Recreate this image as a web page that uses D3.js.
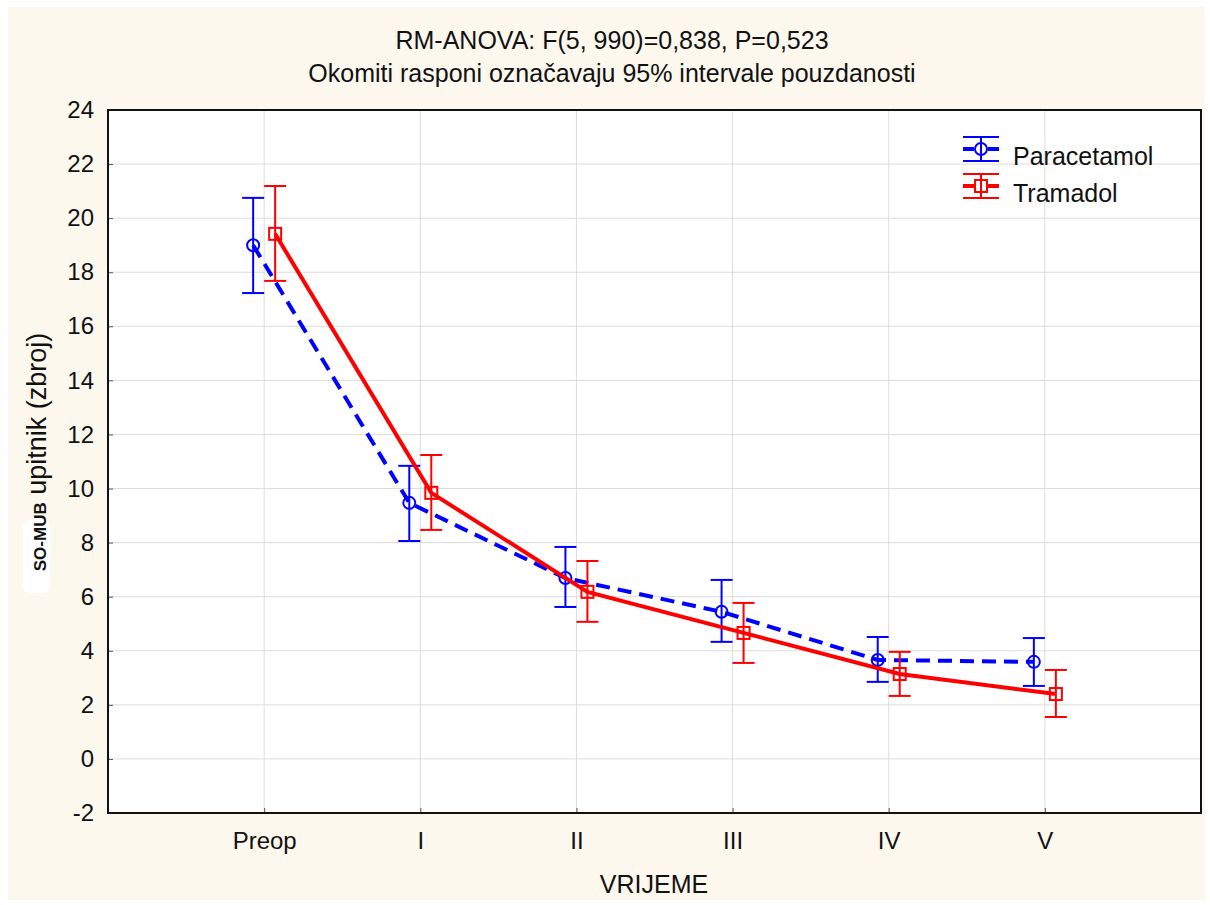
<!DOCTYPE html>
<html>
<head>
<meta charset="utf-8">
<script src="https://cdn.jsdelivr.net/npm/d3@7"></script>
<style>
  body { margin: 0; background: #fff; }
  svg { display: block; }
  text { font-family: "Liberation Sans", Arial, sans-serif; fill: #111; }
</style>
</head>
<body>
<div id="chart"></div>
<script>
const categories = ["Preop", "I", "II", "III", "IV", "V"];
const yTicks = [-2, 0, 2, 4, 6, 8, 10, 12, 14, 16, 18, 20, 22, 24];

// means and 95% CI
const paracetamolMean = [19.0, 9.47, 6.69, 5.44, 3.66, 3.59];
const paracetamolLow  = [17.23, 8.06, 5.62, 4.33, 2.85, 2.70];
const paracetamolHigh = [20.75, 10.84, 7.84, 6.62, 4.51, 4.47];

const tramadolMean = [19.42, 9.84, 6.18, 4.66, 3.14, 2.40];
const tramadolLow  = [17.68, 8.47, 5.07, 3.55, 2.33, 1.55];
const tramadolHigh = [21.19, 11.24, 7.32, 5.77, 3.96, 3.29];

const W = 1210, H = 905;
const plot = {left: 108, right: 1201, top: 110, bottom: 813};

const svg = d3.select("#chart").append("svg")
    .attr("width", W)
    .attr("height", H);

// cream background
svg.append("rect")
    .attr("x", 8).attr("y", 7)
    .attr("width", 1197).attr("height", 893)
    .attr("fill", "#fdf8ee");

const x = d3.scalePoint()
    .domain(categories)
    .range([plot.left, plot.right])
    .padding(1);
const y = d3.scaleLinear()
    .domain([-2, 24])
    .range([plot.bottom, plot.top]);

// plot area
svg.append("rect")
    .attr("x", plot.left).attr("y", plot.top)
    .attr("width", plot.right - plot.left)
    .attr("height", plot.bottom - plot.top)
    .attr("fill", "#fff");

// grid
const grid = svg.append("g");
grid.selectAll(".hg")
    .data(yTicks.slice(1, -1))
    .enter()
    .append("line")
    .attr("x1", plot.left).attr("x2", plot.right)
    .attr("y1", d => y(d)).attr("y2", d => y(d))
    .attr("stroke", "#dcdcdc")
    .attr("stroke-width", 1);
grid.selectAll(".vg")
    .data(categories)
    .enter()
    .append("line")
    .attr("x1", d => x(d)).attr("x2", d => x(d))
    .attr("y1", plot.top).attr("y2", plot.bottom)
    .attr("stroke", "#dcdcdc")
    .attr("stroke-width", 1);

// axes (ticks pointing inwards)
const yAxis = svg.append("g")
    .attr("transform", `translate(${plot.left},0)`)
    .call(d3.axisLeft(y).tickValues(yTicks).tickSize(-5).tickPadding(14).tickFormat(d => String(d)));
yAxis.selectAll("text").style("font-size", "24px").attr("fill", "#111");

const xAxis = svg.append("g")
    .attr("transform", `translate(0,${plot.bottom})`)
    .call(d3.axisBottom(x).tickSize(-5).tickPadding(19));
xAxis.selectAll("text").style("font-size", "24px").attr("fill", "#111");

[yAxis, xAxis].forEach(a => {
    a.select(".domain").remove();
    a.selectAll(".tick line").attr("stroke", "#555");
});

// frame
svg.append("rect")
    .attr("x", plot.left).attr("y", plot.top)
    .attr("width", plot.right - plot.left)
    .attr("height", plot.bottom - plot.top)
    .attr("fill", "none")
    .attr("stroke", "#111")
    .attr("stroke-width", 2);

const series = [
    {name: "Paracetamol", color: "#0000ff", dx: -11, dash: "14,8", marker: "circle",
     mean: paracetamolMean, low: paracetamolLow, high: paracetamolHigh},
    {name: "Tramadol", color: "#ff0000", dx: 11, dash: null, marker: "square",
     mean: tramadolMean, low: tramadolLow, high: tramadolHigh}
];

const line = d3.line()
    .x(d => d.x)
    .y(d => d.y);

const drawMarker = (g, type, color) => {
    if (type === "circle") {
        g.append("circle").attr("r", 6);
    } else {
        g.append("rect").attr("x", -6).attr("y", -6).attr("width", 12).attr("height", 12);
    }
    g.selectAll("circle, rect")
        .attr("fill", "none")
        .attr("stroke", color)
        .attr("stroke-width", 2);
};

series.forEach(s => {
    const pts = categories.map((c, i) => ({
        x: x(c) + s.dx, y: y(s.mean[i]), lo: y(s.low[i]), hi: y(s.high[i])
    }));
    const g = svg.append("g");

    g.append("path")
        .attr("d", line(pts))
        .attr("fill", "none")
        .attr("stroke", s.color)
        .attr("stroke-width", 4)
        .attr("stroke-dasharray", s.dash);

    // error bars
    const eb = g.selectAll(".eb")
        .data(pts)
        .enter()
        .append("g");
    eb.append("line")
        .attr("x1", d => d.x).attr("x2", d => d.x)
        .attr("y1", d => d.lo).attr("y2", d => d.hi);
    eb.append("line")
        .attr("x1", d => d.x - 11).attr("x2", d => d.x + 11)
        .attr("y1", d => d.lo).attr("y2", d => d.lo);
    eb.append("line")
        .attr("x1", d => d.x - 11).attr("x2", d => d.x + 11)
        .attr("y1", d => d.hi).attr("y2", d => d.hi);
    eb.selectAll("line")
        .attr("stroke", s.color)
        .attr("stroke-width", 2);

    pts.forEach(p => {
        const m = g.append("g").attr("transform", `translate(${p.x},${p.y})`);
        drawMarker(m, s.marker, s.color);
    });
});

// legend
const legend = svg.append("g");
series.forEach((s, i) => {
    const cy = 149 + i * 37;
    const lg = legend.append("g").attr("transform", `translate(981,${cy})`);
    lg.append("line")
        .attr("x1", -18).attr("x2", -7).attr("y1", 0).attr("y2", 0)
        .attr("stroke", s.color).attr("stroke-width", 4);
    lg.append("line")
        .attr("x1", 7).attr("x2", 18).attr("y1", 0).attr("y2", 0)
        .attr("stroke", s.color).attr("stroke-width", 4);
    lg.append("line")
        .attr("x1", 0).attr("x2", 0).attr("y1", -12).attr("y2", 12)
        .attr("stroke", s.color).attr("stroke-width", 2);
    [-12, 12].forEach(v => {
        lg.append("line")
            .attr("x1", -18).attr("x2", 18).attr("y1", v).attr("y2", v)
            .attr("stroke", s.color).attr("stroke-width", 2);
    });
    drawMarker(lg, s.marker, s.color);
    legend.append("text")
        .attr("x", 1013).attr("y", cy + 16)
        .style("font-size", "25px")
        .text(s.name);
});

// titles
svg.append("text")
    .attr("x", 612).attr("y", 49)
    .attr("text-anchor", "middle")
    .style("font-size", "25px")
    .text("RM-ANOVA: F(5, 990)=0,838, P=0,523");
svg.append("text")
    .attr("x", 612).attr("y", 82)
    .attr("text-anchor", "middle")
    .style("font-size", "25px")
    .text("Okomiti rasponi označavaju 95% intervale pouzdanosti");

svg.append("text")
    .attr("x", 654).attr("y", 893)
    .attr("text-anchor", "middle")
    .style("font-size", "25px")
    .text("VRIJEME");

// y axis label
const yl = svg.append("g").attr("transform", "translate(46,452) rotate(-90)");
yl.append("rect")
    .attr("x", -141).attr("y", -23)
    .attr("width", 73).attr("height", 27)
    .attr("rx", 6)
    .attr("fill", "#fff");
const ylText = yl.append("text")
    .attr("text-anchor", "middle")
    .style("font-size", "27px");
ylText.append("tspan")
    .style("font-size", "17px")
    .style("font-weight", "bold")
    .text("SO-MUB");
ylText.append("tspan").text(" upitnik (zbroj)");
</script>
</body>
</html>
